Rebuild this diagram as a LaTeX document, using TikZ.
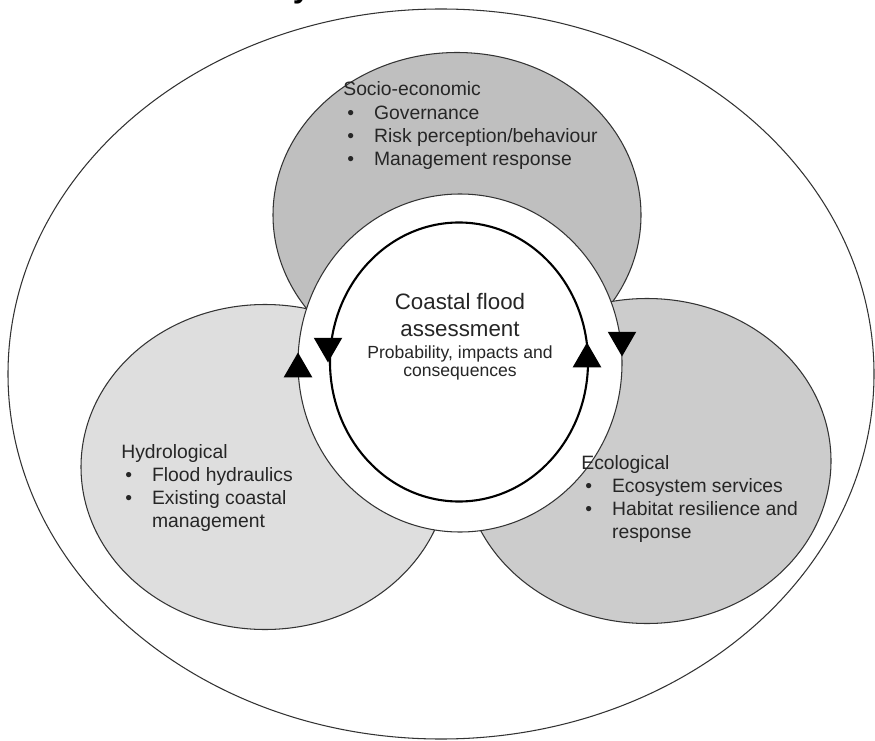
\documentclass[tikz,border=0pt]{standalone}
\usepackage{fontspec}
\setmainfont{Liberation Sans}
\usepackage{tikz}
\usetikzlibrary{shapes.geometric}

\definecolor{socgray}{gray}{0.75}
\definecolor{hydgray}{gray}{0.87}
\definecolor{ecogray}{gray}{0.80}

\begin{document}
\begin{tikzpicture}[x=1cm,y=1cm]

% --- STYLES ---
\tikzset{
  zone/.style={ellipse, draw=black!80, line width=0.6pt,
               minimum width=7.36cm, minimum height=6.5cm},
  border/.style={ellipse, draw=black!80, fill=white, line width=0.6pt},
  loopring/.style={ellipse, draw=black, line width=1.2pt},
  zonetext/.style={anchor=base west, inner sep=0pt, text=black!85,
                   font=\fontsize{11}{13.1}\selectfont},
  coretext/.style={anchor=base, inner sep=0pt, text=black!85},
  % filled triangles showing the two loops
  flowtip/.style={regular polygon, regular polygon sides=3, fill=black,
                  inner sep=0pt, minimum size=0.66cm},
}

% --- BULLET MACRO ---
\newcommand{\zbullet}{\makebox[17.5pt][l]{\hspace*{2.3pt}\textbullet}}

\useasboundingbox (0,0) rectangle (17.5,14.8);

% ================= TITLE (cut off at the top) =================
\node[anchor=base west, inner sep=0pt, font=\fontsize{18}{20}\selectfont\bfseries]
      (title) at (0.12,14.84) {The coastal flood system};

% ================= SYSTEM BOUNDARY =================
\node[border, minimum width=17.32cm, minimum height=14.6cm] (sys) at (8.82,7.32) {};

% ================= THREE ZONES =================
\node[zone, fill=socgray] (socio) at (9.14,10.50) {};
\node[zone, fill=hydgray] (hydro) at (5.30, 5.46) {};
\node[zone, fill=ecogray] (eco)   at (12.94,5.58) {};

% ================= CENTRAL ASSESSMENT =================
\node[border, minimum width=6.48cm, minimum height=6.76cm] (ring) at (9.20,7.54) {};
\node[loopring, minimum width=5.16cm, minimum height=5.58cm] (core) at (9.18,7.56) {};

\node[flowtip]                           (tipA) at ( 5.96,7.42) {};
\node[flowtip, shape border rotate=180]  (tipB) at ( 6.56,7.88) {};
\node[flowtip]                           (tipC) at (11.74,7.62) {};
\node[flowtip, shape border rotate=180]  (tipD) at (12.44,8.00) {};

\node[coretext, font=\fontsize{12.7}{15.9}\selectfont] (ctitle) at (9.2,8.62)
      {\begin{tabular}[t]{@{}c@{}}Coastal flood\\assessment\end{tabular}};
\node[coretext, font=\fontsize{10}{10.8}\selectfont] (csub) at (9.2,7.64)
      {\begin{tabular}[t]{@{}c@{}}Probability, impacts and\\consequences\end{tabular}};

% ================= ZONE LABELS =================
\node[zonetext] (sociotext) at (6.86,12.88) {\begin{tabular}[t]{@{}l@{}l@{}}
  \multicolumn{2}{@{}l@{}}{Socio-economic}\\
  \zbullet & Governance\\
  \zbullet & Risk perception/behaviour\\
  \zbullet & Management response
\end{tabular}};

\node[zonetext] (hydrotext) at (2.42,5.64) {\begin{tabular}[t]{@{}l@{}l@{}}
  \multicolumn{2}{@{}l@{}}{Hydrological}\\
  \zbullet & Flood hydraulics\\
  \zbullet & Existing coastal\\
           & management
\end{tabular}};

\node[zonetext] (ecotext) at (11.62,5.42) {\begin{tabular}[t]{@{}l@{}l@{}}
  \multicolumn{2}{@{}l@{}}{Ecological}\\
  \zbullet & Ecosystem services\\
  \zbullet & Habitat resilience and\\
           & response
\end{tabular}};

\end{tikzpicture}
\end{document}
